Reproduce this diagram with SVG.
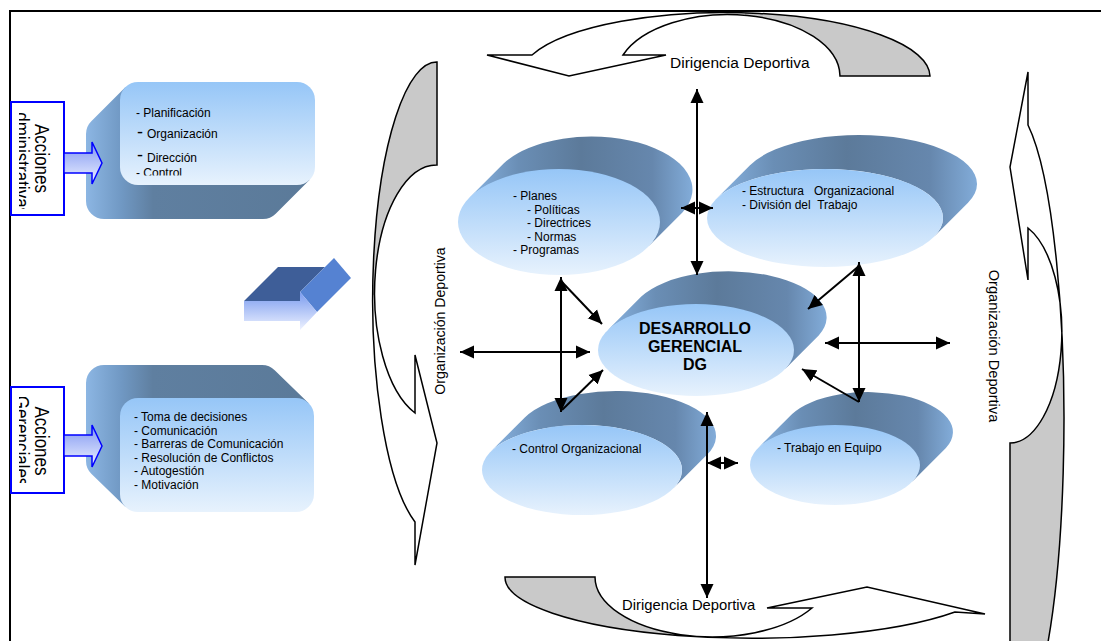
<svg xmlns="http://www.w3.org/2000/svg" width="1101" height="641" viewBox="0 0 1101 641">
  <style>
    text { font-family: "Liberation Sans", Arial, sans-serif; fill: #000; }
    .t12 { font-size: 12px; }
    .lbl { font-size: 15px; }
    .dg { font-size: 16px; font-weight: bold; }
    .rot { font-size: 20px; }
    .band { fill: #ffffff; stroke: none; }
    .bandBack { fill: #c9c9c9; stroke: none; }
    .bandLine { fill: none; stroke: #000; stroke-width: 1.5; stroke-linejoin: miter; }
    .edge { fill: none; stroke: #000; stroke-width: 2; }
    .frame { fill: none; stroke: #000; stroke-width: 2; }
    .tag { fill: #ffffff; stroke: #0000ff; stroke-width: 2; }
    .blueArrow { fill: url(#blueArrow); stroke: #0000ff; stroke-width: 1.5; }
  </style>
  <defs>
    <linearGradient id="face" x1="0" y1="0" x2="0" y2="1">
      <stop offset="0" stop-color="#96c6f7"/>
      <stop offset="1" stop-color="#e7f2fd"/>
    </linearGradient>
    <linearGradient id="side" x1="0" y1="0" x2="1" y2="0">
      <stop offset="0" stop-color="#88b3e1"/>
      <stop offset="0.22" stop-color="#6a8eb5"/>
      <stop offset="0.5" stop-color="#5c7a9a"/>
      <stop offset="0.82" stop-color="#6687ad"/>
      <stop offset="1" stop-color="#82acd9"/>
    </linearGradient>
    <linearGradient id="boxSide" x1="0" y1="0" x2="1" y2="0">
      <stop offset="0" stop-color="#8cb6e3"/>
      <stop offset="0.16" stop-color="#7098c3"/>
      <stop offset="0.3" stop-color="#5f7fa0"/>
      <stop offset="1" stop-color="#5b7a99"/>
    </linearGradient>
    <linearGradient id="blueArrow" x1="0" y1="0" x2="0" y2="1">
      <stop offset="0" stop-color="#7f96f2"/>
      <stop offset="1" stop-color="#eef2ff"/>
    </linearGradient>
    <linearGradient id="bigArrowFront" x1="0" y1="0" x2="0" y2="1">
      <stop offset="0" stop-color="#7a9bef"/>
      <stop offset="1" stop-color="#eef2ff"/>
    </linearGradient>
    <marker id="ah" viewBox="0 0 14 14" refX="14" refY="7" markerWidth="14" markerHeight="14" markerUnits="userSpaceOnUse" orient="auto-start-reverse">
      <path d="M0,0.5 L14,7 L0,13.5 Z" fill="#000"/>
    </marker>
    <clipPath id="clipAdm"><rect x="19" y="112" width="43" height="97"/></clipPath>
    <clipPath id="clipGer"><rect x="19" y="397" width="43" height="86"/></clipPath>
    <clipPath id="clipList"><rect x="120" y="82" width="195" height="93.5"/></clipPath>
    <clipPath id="clipTopBack"><rect x="745" y="0" width="300" height="100"/></clipPath>
    <clipPath id="clipBottomBack"><rect x="480" y="560" width="227" height="90"/></clipPath>
    <clipPath id="clipLeftBack"><rect x="360" y="50" width="90" height="245"/></clipPath>
    <clipPath id="clipRightBack"><rect x="1000" y="340" width="80" height="320"/></clipPath>
    <!-- curved cycle arrows -->
    <path id="arrowTop" d="M487,55 L532,55 A205,64 0 0,1 930,76 L840,76 A112,62 0 0,0 623,55 L666,55 L569,76 Z"/>
    <path id="arrowBottom" d="M505,577 L595,577 A117,60 0 0,0 812,608 L767,608 L867,587 L985,614 L955,612 A247,61 0 0,1 505,577 Z"/>
    <path id="arrowLeft" d="M415,413 L415,355 L437,443 L415,565 L415,522 A64,237 0 0,1 437,62 L437,165 A62,128 0 0,0 415,413 Z"/>
    <path id="arrowRight" d="M1028,125 L1028,72 L1010,167 L1028,280 L1028,228 A52,111 0 0,1 1010,443 L1010,733 A54,313 0 0,0 1028,125 Z"/>
  </defs>

  <!-- frame -->
  <path class="frame" d="M10,641 V11 H1101"/>

  <!-- cycle: Dirigencia / Organización Deportiva -->
  <g id="cycle-top">
    <use href="#arrowTop" class="band"/>
    <use href="#arrowTop" class="bandBack" clip-path="url(#clipTopBack)"/>
    <use href="#arrowTop" class="bandLine"/>
    <text class="lbl" x="670" y="68" style="font-size:15.5px">Dirigencia Deportiva</text>
  </g>
  <g id="cycle-bottom">
    <use href="#arrowBottom" class="band"/>
    <use href="#arrowBottom" class="bandBack" clip-path="url(#clipBottomBack)"/>
    <use href="#arrowBottom" class="bandLine"/>
    <text class="lbl" x="622" y="609.5" style="font-size:14.8px">Dirigencia Deportiva</text>
  </g>
  <g id="cycle-left">
    <use href="#arrowLeft" class="band"/>
    <use href="#arrowLeft" class="bandBack" clip-path="url(#clipLeftBack)"/>
    <use href="#arrowLeft" class="bandLine"/>
    <text x="0" y="0" text-anchor="middle" transform="translate(445,321) rotate(-90)" style="font-size:14.1px">Organización Deportiva</text>
  </g>
  <g id="cycle-right">
    <use href="#arrowRight" class="band"/>
    <use href="#arrowRight" class="bandBack" clip-path="url(#clipRightBack)"/>
    <use href="#arrowRight" class="bandLine"/>
    <text x="0" y="0" text-anchor="middle" transform="translate(989,346) rotate(90)" style="font-size:14.6px">Organización Deportiva</text>
  </g>

  <!-- left column: administrative list box -->
  <g id="lista-administrativa">
    <path fill="url(#boxSide)" d="M125.3,87.3 L91.3,121.3 A18,18 0 0,0 86,134 V201 A18,18 0 0,0 104,219 H263 A18,18 0 0,0 275.7,213.7 L309.7,179.7 Z"/>
    <rect x="120" y="82" width="195" height="103" rx="18" fill="url(#face)"/>
    <g class="t12" clip-path="url(#clipList)">
      <text class="t12" x="136" y="117">- Planificación</text>
      <text x="137" y="137.5" style="font-size:18px">-</text>
      <text class="t12" x="147" y="138">Organización</text>
      <text x="137" y="161" style="font-size:18px">-</text>
      <text class="t12" x="147" y="162">Dirección</text>
      <text class="t12" x="136" y="176.5">- Control</text>
    </g>
  </g>
  <g id="acciones-administrativas">
    <rect class="tag" x="11" y="102" width="53" height="113"/>
    <g clip-path="url(#clipAdm)">
      <text class="rot" text-anchor="middle" transform="translate(35,158.5) rotate(90) scale(0.85,1)">Acciones</text>
      <text class="rot" text-anchor="middle" transform="translate(15,158.5) rotate(90) scale(0.85,1)">Administrativas</text>
    </g>
    <path class="blueArrow" d="M64,153 H92 V142 L102,163 L92,184 V173 H64 Z"/>
  </g>

  <!-- left column: managerial list box -->
  <g id="lista-gerencial">
    <path fill="url(#boxSide)" d="M308.7,403.3 L274.7,370.3 A18,18 0 0,0 262,365 H104 A18,18 0 0,0 86,383 V461 A18,18 0 0,0 91.3,473.7 L125.3,506.7 Z"/>
    <rect x="120" y="398" width="194" height="114" rx="18" fill="url(#face)"/>
    <text class="t12" x="134" y="421">- Toma de decisiones</text>
    <text class="t12" x="134" y="434.6">- Comunicación</text>
    <text class="t12" x="134" y="448.2">- Barreras de Comunicación</text>
    <text class="t12" x="134" y="461.8">- Resolución de Conflictos</text>
    <text class="t12" x="134" y="475.4">- Autogestión</text>
    <text class="t12" x="134" y="489">- Motivación</text>
  </g>
  <g id="acciones-gerenciales">
    <rect class="tag" x="11" y="387" width="53" height="106"/>
    <g clip-path="url(#clipGer)">
      <text class="rot" text-anchor="middle" transform="translate(35,441) rotate(90) scale(0.85,1)">Acciones</text>
      <text class="rot" text-anchor="middle" transform="translate(15,441) rotate(90) scale(0.85,1)">Gerenciales</text>
    </g>
    <path class="blueArrow" d="M64,435 H92 V425 L102,446 L92,467 V456 H64 Z"/>
  </g>

  <!-- 3D block arrow -->
  <g id="flecha-3d">
    <path fill="#3e5e98" d="M244,301 L278,267 L325,267 L300,292 V301 Z"/>
    <path fill="#5582d2" d="M300,292 L334,258 L351,278 L317,312 Z"/>
    <path fill="url(#bigArrowFront)" d="M244,301 H300 V292 L317,312 L300,330 V321 H244 Z"/>
  </g>

  <!-- oval nodes -->
  <g id="planes">
    <path fill="url(#side)" d="M469.6,197.4 L503.6,163.4 A101,53 0 0,1 682.4,212.6 L648.4,246.6 A101,53 0 0,0 469.6,197.4 Z"/>
    <ellipse cx="559" cy="222" rx="101" ry="53" fill="url(#face)"/>
    <text class="t12" x="513" y="200">- Planes</text>
    <text class="t12" x="527" y="213.5">- Políticas</text>
    <text class="t12" x="527" y="227">- Directrices</text>
    <text class="t12" x="527" y="240.5">- Normas</text>
    <text class="t12" x="513" y="254">- Programas</text>
  </g>
  <g id="estructura">
    <path fill="url(#side)" d="M716,199.2 L750,165.2 A118,49 0 0,1 968,202.8 L934,236.8 A118,49 0 0,0 716,199.2 Z"/>
    <ellipse cx="825" cy="218" rx="118" ry="49" fill="url(#face)"/>
    <text class="t12" x="742" y="195" xml:space="preserve">- Estructura   Organizacional</text>
    <text class="t12" x="742" y="209" xml:space="preserve">- División del  Trabajo</text>
  </g>
  <g id="desarrollo-gerencial">
    <path fill="url(#side)" d="M607.3,330.5 L641.3,296.5 A98,46 0 0,1 818.7,335.5 L784.7,369.5 A98,46 0 0,0 607.3,330.5 Z"/>
    <ellipse cx="696" cy="350" rx="98" ry="46" fill="url(#face)"/>
    <text class="dg" x="695" y="334" text-anchor="middle">DESARROLLO</text>
    <text class="dg" x="695" y="352" text-anchor="middle">GERENCIAL</text>
    <text class="dg" x="695" y="370" text-anchor="middle">DG</text>
  </g>
  <g id="control">
    <path fill="url(#side)" d="M490.8,451.5 L524.8,417.5 A100,45 0 0,1 707.2,454.5 L673.2,488.5 A100,45 0 0,0 490.8,451.5 Z"/>
    <ellipse cx="582" cy="470" rx="100" ry="45" fill="url(#face)"/>
    <text class="t12" x="512" y="453">- Control Organizacional</text>
  </g>
  <g id="trabajo-equipo">
    <path fill="url(#side)" d="M758.1,448 L792.1,414 A85,40 0 0,1 945.9,448 L911.9,482 A85,40 0 0,0 758.1,448 Z"/>
    <ellipse cx="835" cy="465" rx="85" ry="40" fill="url(#face)"/>
    <text class="t12" x="777" y="452">- Trabajo en Equipo</text>
  </g>

  <!-- connectors -->
  <g id="connectors" class="edge">
    <path d="M697,89 V275" marker-start="url(#ah)" marker-end="url(#ah)"/>
    <path d="M681,208 H713" marker-start="url(#ah)" marker-end="url(#ah)"/>
    <path d="M707,412 V598" marker-start="url(#ah)" marker-end="url(#ah)"/>
    <path d="M707,463 H738" marker-start="url(#ah)" marker-end="url(#ah)"/>
    <path d="M460,352 H590" marker-start="url(#ah)" marker-end="url(#ah)"/>
    <path d="M825,343 H950" marker-start="url(#ah)" marker-end="url(#ah)"/>
    <path d="M561,277 V412" marker-start="url(#ah)" marker-end="url(#ah)"/>
    <path d="M562,282 L602,324" marker-end="url(#ah)"/>
    <path d="M562,410 L603,370" marker-end="url(#ah)"/>
    <path d="M859,262 V402" marker-start="url(#ah)" marker-end="url(#ah)"/>
    <path d="M859,266 L808,309" marker-end="url(#ah)"/>
    <path d="M859,402 L802,369" marker-end="url(#ah)"/>
  </g>
</svg>
